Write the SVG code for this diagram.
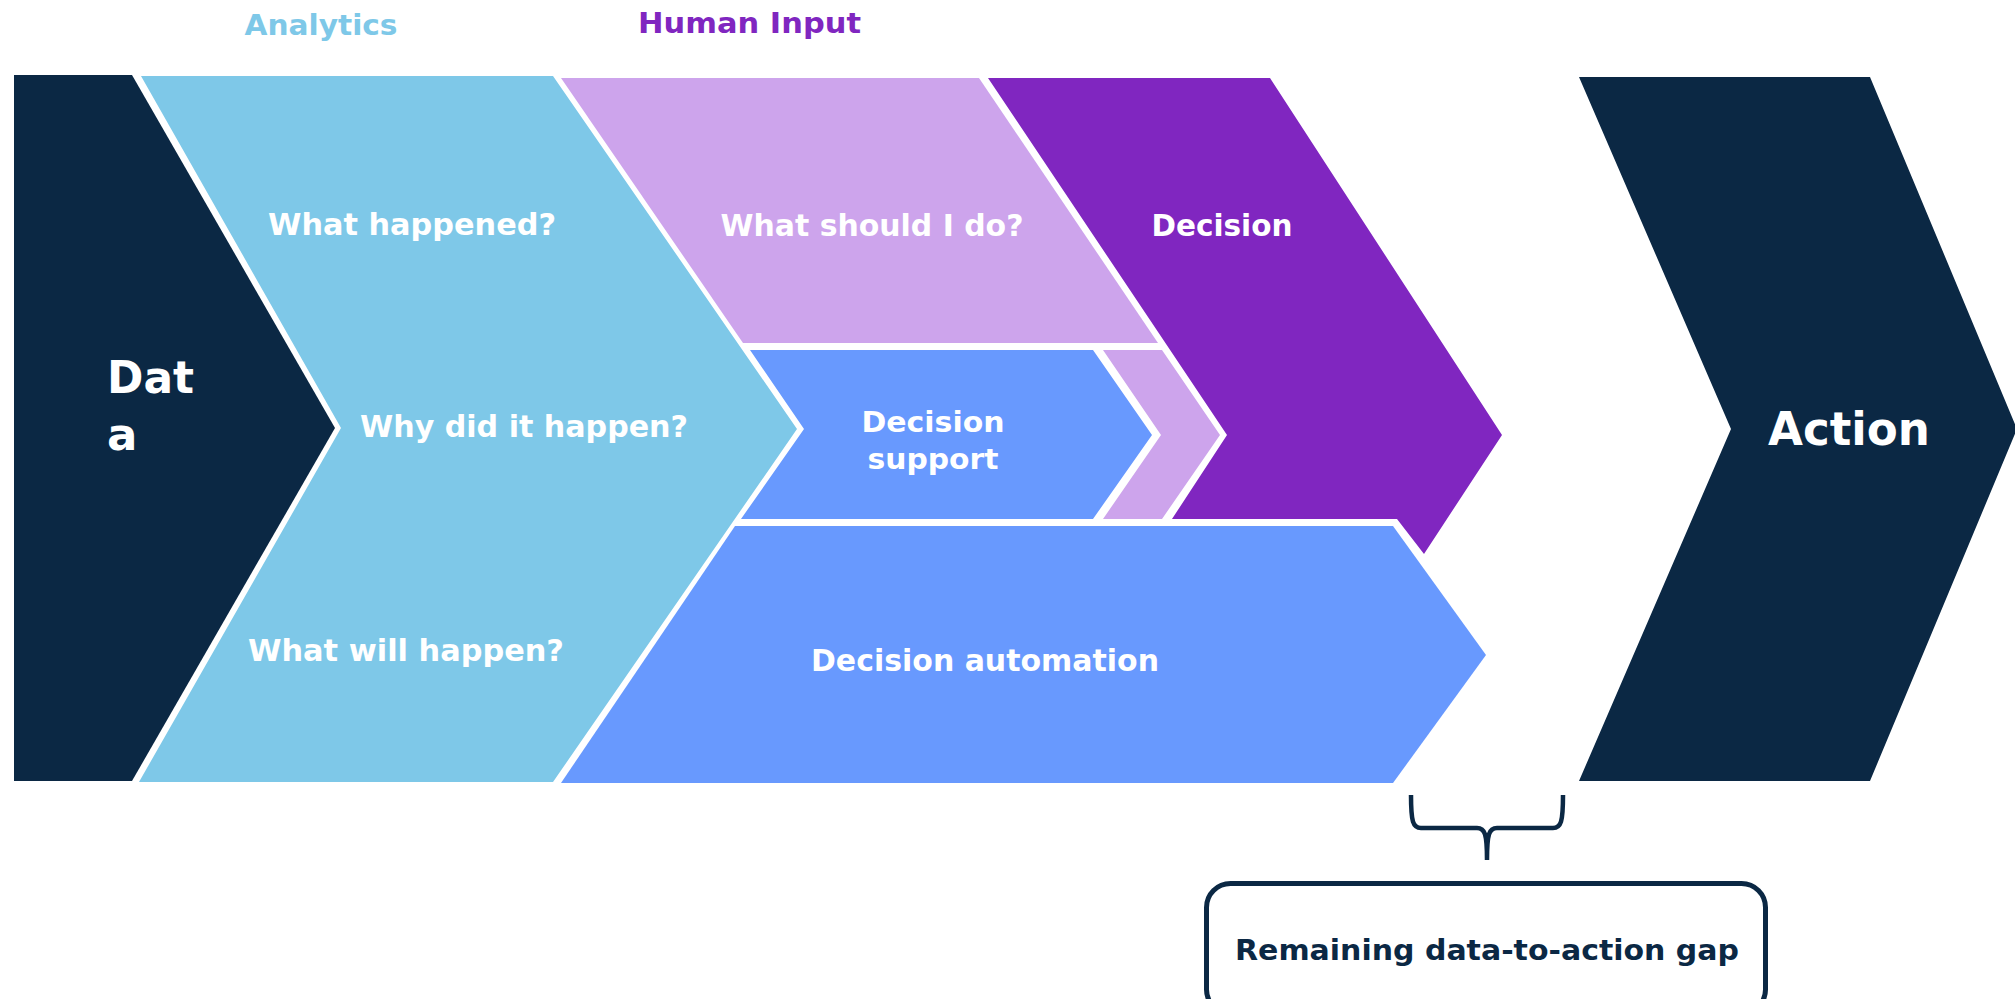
<svg xmlns="http://www.w3.org/2000/svg" width="2015" height="999" viewBox="0 0 2015 999">
<style>
.t{font-family:"DejaVu Sans","Open Sans","Liberation Sans",sans-serif;font-weight:700;}
.w{fill:#ffffff;}
.navy{fill:#0B2844;}
.lblue{fill:#7EC8E8;}
.lpur{fill:#CDA4EC;}
.pur{fill:#8026C0;}
.blue{fill:#6899FE;}
</style>
<rect width="2015" height="999" fill="#ffffff"/>
<g id="header-analytics"><text class="t" x="321" y="35" font-size="29" text-anchor="middle" fill="#7EC8E8" textLength="153" lengthAdjust="spacingAndGlyphs">Analytics</text></g>
<g id="header-human-input"><text class="t" x="749.5" y="33" font-size="29" text-anchor="middle" fill="#8026C0" textLength="223" lengthAdjust="spacingAndGlyphs">Human Input</text></g>
<g id="node-data">
<polygon class="navy" points="14,75 132,75 335,428 132,781 14,781"/>
<text class="t w" x="107" y="393" font-size="45" textLength="87" lengthAdjust="spacingAndGlyphs">Dat</text>
<text class="t w" x="107" y="450" font-size="45">a</text>
</g>
<g id="node-analytics">
<polygon class="lblue" points="141,76 553,76 797,429 553,782 139,782 341,428"/>
<text class="t w" x="412" y="235" font-size="30" text-anchor="middle" textLength="288" lengthAdjust="spacingAndGlyphs">What happened?</text>
<text class="t w" x="524" y="437" font-size="30" text-anchor="middle" textLength="328" lengthAdjust="spacingAndGlyphs">Why did it happen?</text>
<text class="t w" x="406" y="661" font-size="30" text-anchor="middle" textLength="316" lengthAdjust="spacingAndGlyphs">What will happen?</text>
</g>
<g id="node-what-should">
<polygon class="lpur" points="561,78 979,78 1158,343 743,343"/>
<polygon class="lpur" points="1103,350 1162,350 1220,435 1162,519 1103,519 1161,435"/>
<text class="t w" x="872" y="236" font-size="30" text-anchor="middle" textLength="303" lengthAdjust="spacingAndGlyphs">What should I do?</text>
</g>
<g id="node-decision-support">
<polygon class="blue" points="750,350 1093,350 1152,435 1093,519 741,519 804,429"/>
<text class="t w" x="933" y="432" font-size="29" text-anchor="middle" textLength="143" lengthAdjust="spacingAndGlyphs">Decision</text>
<text class="t w" x="933" y="469" font-size="29" text-anchor="middle" textLength="131" lengthAdjust="spacingAndGlyphs">support</text>
</g>
<g id="node-decision">
<polygon class="pur" points="988,78 1270,78 1502,435 1424,554 1397,519 1172,519 1227,435"/>
<text class="t w" x="1222" y="236" font-size="30" text-anchor="middle" textLength="141" lengthAdjust="spacingAndGlyphs">Decision</text>
</g>
<g id="node-decision-automation">
<polygon class="blue" points="735,526 1393,526 1486,655 1393,783 561,783"/>
<text class="t w" x="985" y="671" font-size="30" text-anchor="middle" textLength="348" lengthAdjust="spacingAndGlyphs">Decision automation</text>
</g>
<g id="node-action">
<polygon class="navy" points="1579,77 1870,77 2017,429 1870,781 1579,781 1731,429"/>
<text class="t w" x="1849" y="445" font-size="46" text-anchor="middle" textLength="162" lengthAdjust="spacingAndGlyphs">Action</text>
</g>
<g id="connectors">
<path d="M1411,795 C1411,822 1413,828 1421,828 L1477,828 C1485,828 1487,834 1487,860 M1563,795 C1563,822 1561,828 1553,828 L1497,828 C1489,828 1487,834 1487,860" fill="none" stroke="#0B2844" stroke-width="4.5"/>
</g>
<g id="node-gap">
<rect x="1206.5" y="883.5" width="559" height="130" rx="24" ry="24" fill="#ffffff" stroke="#0B2844" stroke-width="5"/>
<text class="t" x="1487" y="960" font-size="29" text-anchor="middle" fill="#0B2844" textLength="504" lengthAdjust="spacingAndGlyphs">Remaining data-to-action gap</text>
</g>
</svg>
